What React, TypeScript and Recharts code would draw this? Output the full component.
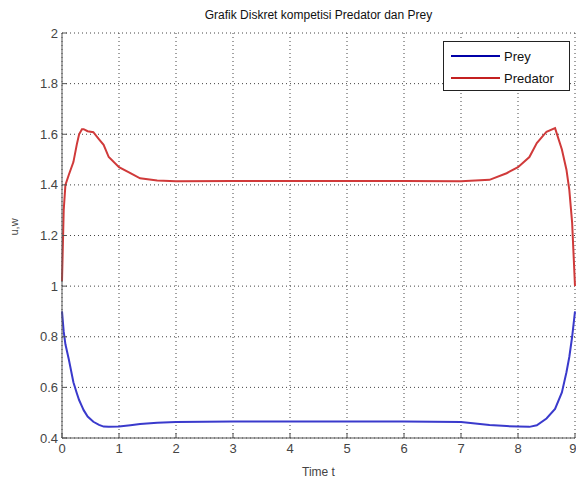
import React from "react";
import { LineChart, Line, XAxis, YAxis, CartesianGrid } from "recharts";

const time = [0, 0.03, 0.06, 0.12, 0.2, 0.26, 0.3, 0.35, 0.38, 0.45, 0.55, 0.65, 0.73, 0.82, 1.0, 1.2, 1.37, 1.67, 2, 3, 4, 5, 6, 7, 7.5, 7.8, 8.0, 8.2, 8.33, 8.5, 8.65, 8.77, 8.85, 8.9, 8.95, 9];
const prey = [0.9, 0.82, 0.77, 0.71, 0.62, 0.577, 0.55, 0.525, 0.51, 0.485, 0.464, 0.452, 0.445, 0.444, 0.445, 0.45, 0.455, 0.46, 0.463, 0.465, 0.465, 0.465, 0.465, 0.463, 0.451, 0.447, 0.445, 0.444, 0.45, 0.477, 0.515, 0.58, 0.66, 0.72, 0.8, 0.9];
const predator = [1.02, 1.3, 1.4, 1.44, 1.49, 1.56, 1.6, 1.62, 1.62, 1.612, 1.608, 1.58, 1.558, 1.51, 1.47, 1.446, 1.426, 1.417, 1.414, 1.415, 1.415, 1.415, 1.415, 1.414, 1.42, 1.446, 1.47, 1.51, 1.565, 1.61, 1.624, 1.54, 1.46, 1.38, 1.25, 1.0];
const xTicks = [0, 1, 2, 3, 4, 5, 6, 7, 8, 9];
const yTicks = [0.4, 0.6, 0.8, 1, 1.2, 1.4, 1.6, 1.8, 2];

const data = time.map((t, i) => ({ t, prey: prey[i], predator: predator[i] }));

const font = "'Liberation Sans', Arial, sans-serif";
const axisColor = "#555";

const LegendBox = () => (
  <div
    style={{
      position: "absolute",
      top: 41,
      left: 443,
      width: 127,
      height: 50,
      border: "1px solid #222",
      background: "#fff",
      fontFamily: font,
      fontSize: 13,
      color: "#111",
      boxSizing: "border-box",
      padding: "3px 0 0 7px",
    }}
  >
    {[
      { name: "Prey", color: "#0000a8" },
      { name: "Predator", color: "#c42020" },
    ].map((s) => (
      <div key={s.name} style={{ display: "flex", alignItems: "center", height: 22 }}>
        <span style={{ display: "inline-block", width: 49, height: 2, background: s.color, marginRight: 4 }} />
        <span>{s.name}</span>
      </div>
    ))}
  </div>
);

export default function App() {
  return (
    <div style={{ position: "absolute", left: 0, top: 0, width: 576, height: 483, background: "#fff" }}>
      <div
        style={{
          position: "absolute",
          top: 8,
          left: 62,
          width: 513,
          textAlign: "center",
          fontFamily: font,
          fontSize: 12,
          color: "#111",
        }}
      >
        Grafik Diskret kompetisi Predator dan Prey
      </div>
      <LineChart width={576} height={483} data={data} margin={{ top: 33, right: 1, bottom: 25, left: 0 }}>
        <CartesianGrid stroke="#444" strokeDasharray="1 3" horizontal vertical />
        <XAxis
          xAxisId="top"
          orientation="top"
          dataKey="t"
          type="number"
          domain={[0, 9]}
          ticks={xTicks}
          height={0}
          tick={false}
          tickSize={-5}
          stroke={axisColor}
        />
        <YAxis
          yAxisId="right"
          orientation="right"
          type="number"
          domain={[0.4, 2]}
          ticks={yTicks}
          width={0}
          tick={false}
          tickSize={-5}
          stroke={axisColor}
        />
        <XAxis
          dataKey="t"
          type="number"
          domain={[0, 9]}
          ticks={xTicks}
          height={20}
          tickSize={-5}
          tickMargin={11}
          stroke={axisColor}
          tick={{ fill: "#444", fontSize: 13, fontFamily: font }}
          label={{ value: "Time t", position: "insideBottom", offset: -18, fill: "#444", fontSize: 12, fontFamily: font }}
        />
        <YAxis
          type="number"
          domain={[0.4, 2]}
          ticks={yTicks}
          width={62}
          tickSize={-5}
          tickMargin={9}
          stroke={axisColor}
          tickFormatter={(v: number) => String(v)}
          tick={{ fill: "#444", fontSize: 13, fontFamily: font }}
          label={{ value: "u,w", angle: -90, position: "insideLeft", offset: 14, fill: "#444", fontSize: 11, fontFamily: font }}
        />
        <Line dataKey="prey" stroke="#3a3acc" strokeWidth={2} dot={false} isAnimationActive={false} type="linear" />
        <Line dataKey="predator" stroke="#d03a3a" strokeWidth={2} dot={false} isAnimationActive={false} type="linear" />
      </LineChart>
      <LegendBox />
    </div>
  );
}
